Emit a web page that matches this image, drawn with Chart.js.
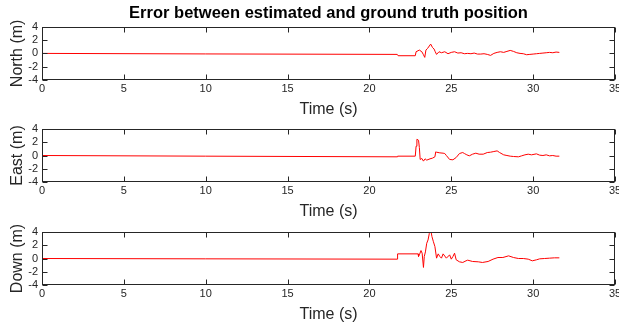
<!DOCTYPE html>
<html>
<head>
<meta charset="utf-8">
<script src="https://cdn.jsdelivr.net/npm/chart.js@4.4.0/dist/chart.umd.min.js"></script>
<style>
    body { margin: 0; background: #fff; }
    #wrap { position: relative; width: 619px; height: 328px; }
    .panel { position: absolute; left: 0; width: 619px; height: 120px; }
</style>
</head>
<body>
<div id="wrap">
    <div class="panel" style="top:0"><canvas id="chartNorth"></canvas></div>
    <div class="panel" style="top:102px"><canvas id="chartEast"></canvas></div>
    <div class="panel" style="top:205px"><canvas id="chartDown"></canvas></div>
</div>
<script>
// position error per axis, metres, against time in seconds
var timeNorth = [0, 10, 21.7, 21.75, 22.8, 22.85, 23.05, 23.2, 23.3, 23.38, 23.45, 23.55, 23.74, 23.85, 23.95, 24.02, 24.1,
    24.25, 24.4, 24.6, 24.8, 25.0, 25.2, 25.4, 25.6, 25.8, 26.0, 26.2, 26.4, 26.6, 26.8, 27.0, 27.2, 27.4, 27.6, 27.8,
    28.0, 28.2, 28.4, 28.6, 28.8, 29.0, 29.2, 29.4, 29.6, 29.8, 30.0, 30.2, 30.4, 30.6, 30.8, 31.0, 31.2, 31.4, 31.6];
var northErr = [0, -0.08, -0.15, -0.35, -0.35, 0.25, 0.5, 0.25, -0.2, -0.6, 0.5, 0.75, 1.4, 0.9, 0.65, 0.25, -0.15,
    0.25, 0.1, 0.25, -0.05, 0.15, 0.25, 0.05, 0.1, -0.05, 0.0, -0.05, 0.05, -0.1, -0.1, -0.05, -0.15, -0.3, 0.0, 0.15,
    0.25, 0.15, 0.3, 0.45, 0.3, 0.1, 0.0, -0.05, -0.2, -0.15, -0.1, -0.05, 0.0, 0.05, 0.1, 0.15, 0.1, 0.2, 0.15];

var timeEast = [0, 10, 21.7, 21.72, 22.8, 22.85, 22.9, 23.0, 23.05, 23.1, 23.2, 23.3, 23.4, 23.5, 23.7, 23.85, 24.0,
    24.05, 24.1, 24.3, 24.5, 24.6, 24.7, 24.9, 25.1, 25.3, 25.5, 25.7, 25.8, 25.95, 26.1, 26.3, 26.5, 26.7, 26.95,
    27.2, 27.4, 27.6, 27.8, 27.95, 28.2, 28.4, 28.6, 28.8, 29.1, 29.3, 29.5, 29.7, 29.9, 30.2, 30.4, 30.6, 30.8, 31.0,
    31.2, 31.4, 31.6];
var eastErr = [0, -0.1, -0.2, -0.1, -0.1, 1.4, 2.45, 2.3, 1.2, -0.6, -0.45, -0.85, -0.5, -0.7, -0.5, -0.4, -0.2,
    0.55, 0.5, 0.4, 0.35, 0.3, 0.0, -0.6, -0.65, -0.3, 0.3, 0.45, 0.3, 0.1, -0.05, 0.2, 0.35, 0.2, 0.2,
    0.45, 0.5, 0.6, 0.7, 0.45, 0.1, 0.0, -0.1, -0.15, -0.2, -0.05, 0.1, 0.2, 0.1, 0.25, 0.05, 0.0, 0.1, -0.05,
    0.0, -0.1, -0.1];

var timeDown = [0, 10, 21.7, 21.72, 22.97, 23.0, 23.05, 23.15, 23.22, 23.3, 23.35, 23.42, 23.5, 23.58, 23.66, 23.76,
    23.82, 23.9, 24.0, 24.1, 24.2, 24.3, 24.4, 24.5, 24.7, 24.9, 25.0, 25.1, 25.2, 25.3, 25.5, 25.7, 25.9, 26.0,
    26.3, 26.65, 26.9, 27.25, 27.55, 27.85, 28.15, 28.5, 28.8, 29.1, 29.4, 29.7, 29.95, 30.2, 30.4, 30.7, 31.0,
    31.3, 31.6];
var downErr = [0, -0.05, -0.1, 0.7, 0.7, 0.3, 0.55, 1.2, 0.8, -1.35, 0.3, 1.0, 2.3, 2.8, 3.8, 4.1,
    3.3, 2.6, 1.8, 0.05, 0.7, 0.3, 0.05, 0.7, 0.05, 0.55, -0.1, 0.3, 0.8, -0.2, -0.5, -0.6, -0.35, -0.25,
    -0.45, -0.5, -0.6, -0.45, -0.1, 0.15, 0.15, 0.4, 0.15, 0.0, 0.0, -0.1, -0.35, -0.2, -0.05, 0.0, 0.05,
    0.1, 0.1];

var timeTicks = [0, 5, 10, 15, 20, 25, 30, 35];
var errTicks = [-4, -2, 0, 2, 4];

var axisColor = '#262626';
var tickLen = 5;
var fontFamily = 'Liberation Sans, Arial, sans-serif';

function toPoints(xs, ys) {
    return xs.map(function (t, i) {
        return {x: t, y: ys[i]};
    });
}

// box around the plot area with inward ticks on all four sides
var boxTicks = {
    id: 'boxTicks',
    afterDatasetsDraw: function (chart) {
        var ctx = chart.ctx;
        var area = chart.chartArea;
        var xs = chart.scales.x, ys = chart.scales.y;
        var left = Math.round(area.left) + 0.5, right = Math.round(area.right) - 0.5;
        var top = Math.round(area.top) + 0.5, bottom = Math.round(area.bottom) - 0.5;
        ctx.save();
        ctx.strokeStyle = axisColor;
        ctx.lineWidth = 1;
        ctx.beginPath();
        xs.ticks.forEach(function (t) {
            var px = Math.round(xs.getPixelForValue(t.value)) + 0.5;
            ctx.moveTo(px, top);
            ctx.lineTo(px, top + tickLen);
            ctx.moveTo(px, bottom);
            ctx.lineTo(px, bottom - tickLen);
        });
        ys.ticks.forEach(function (t) {
            var py = Math.round(ys.getPixelForValue(t.value)) + 0.5;
            ctx.moveTo(left, py);
            ctx.lineTo(left + tickLen, py);
            ctx.moveTo(right, py);
            ctx.lineTo(right - tickLen, py);
        });
        ctx.stroke();
        ctx.strokeRect(left, top, right - left, bottom - top);
        ctx.restore();
    }
};

function createChart(id, label, times, values, withTitle) {
    return new Chart(document.getElementById(id), {
        type: 'line',
        data: {
            datasets: [{
                data: toPoints(times, values),
                borderColor: '#ff0000',
                borderWidth: 1,
                pointRadius: 0,
                tension: 0,
                fill: false
            }]
        },
        options: {
            responsive: true,
            maintainAspectRatio: false,
            animation: false,
            layout: {padding: {top: withTitle ? 0 : 27, right: 4, bottom: 1, left: 0}},
            plugins: {
                legend: {display: false},
                tooltip: {enabled: false},
                title: {
                    display: withTitle,
                    // centred over the plot box rather than the whole canvas
                    fullSize: false,
                    text: 'Error between estimated and ground truth position',
                    color: '#000',
                    font: {family: fontFamily, size: 16.5, weight: 'bold', lineHeight: 1.2},
                    padding: {top: 4, bottom: 3}
                }
            },
            scales: {
                x: {
                    type: 'linear',
                    min: 0,
                    max: 35,
                    afterBuildTicks: function (scale) {
                        scale.ticks = timeTicks.map(function (v) { return {value: v}; });
                    },
                    grid: {display: false, drawTicks: false},
                    border: {display: false},
                    ticks: {
                        color: axisColor,
                        padding: 2,
                        autoSkip: false,
                        maxRotation: 0,
                        font: {family: fontFamily, size: 11}
                    },
                    title: {
                        display: true,
                        text: 'Time (s)',
                        color: axisColor,
                        padding: {top: 0, bottom: 0},
                        font: {family: fontFamily, size: 16, lineHeight: 1.2}
                    },
                    afterFit: function (scale) {
                        scale.height = 39;
                        scale.paddingLeft = 0;
                        scale.paddingRight = 0;
                    }
                },
                y: {
                    min: -4,
                    max: 4,
                    afterBuildTicks: function (scale) {
                        scale.ticks = errTicks.map(function (v) { return {value: v}; });
                    },
                    grid: {display: false, drawTicks: false},
                    border: {display: false},
                    ticks: {
                        color: axisColor,
                        padding: 4,
                        autoSkip: false,
                        font: {family: fontFamily, size: 11}
                    },
                    title: {
                        display: true,
                        text: label,
                        color: axisColor,
                        padding: {top: 8, bottom: 0},
                        font: {family: fontFamily, size: 16, lineHeight: 1.2}
                    },
                    afterFit: function (scale) {
                        scale.width = 42;
                        scale.paddingTop = 0;
                        scale.paddingBottom = 0;
                    }
                }
            }
        },
        plugins: [boxTicks]
    });
}

createChart('chartNorth', 'North (m)', timeNorth, northErr, true);
createChart('chartEast', 'East (m)', timeEast, eastErr, false);
createChart('chartDown', 'Down (m)', timeDown, downErr, false);
</script>
</body>
</html>
